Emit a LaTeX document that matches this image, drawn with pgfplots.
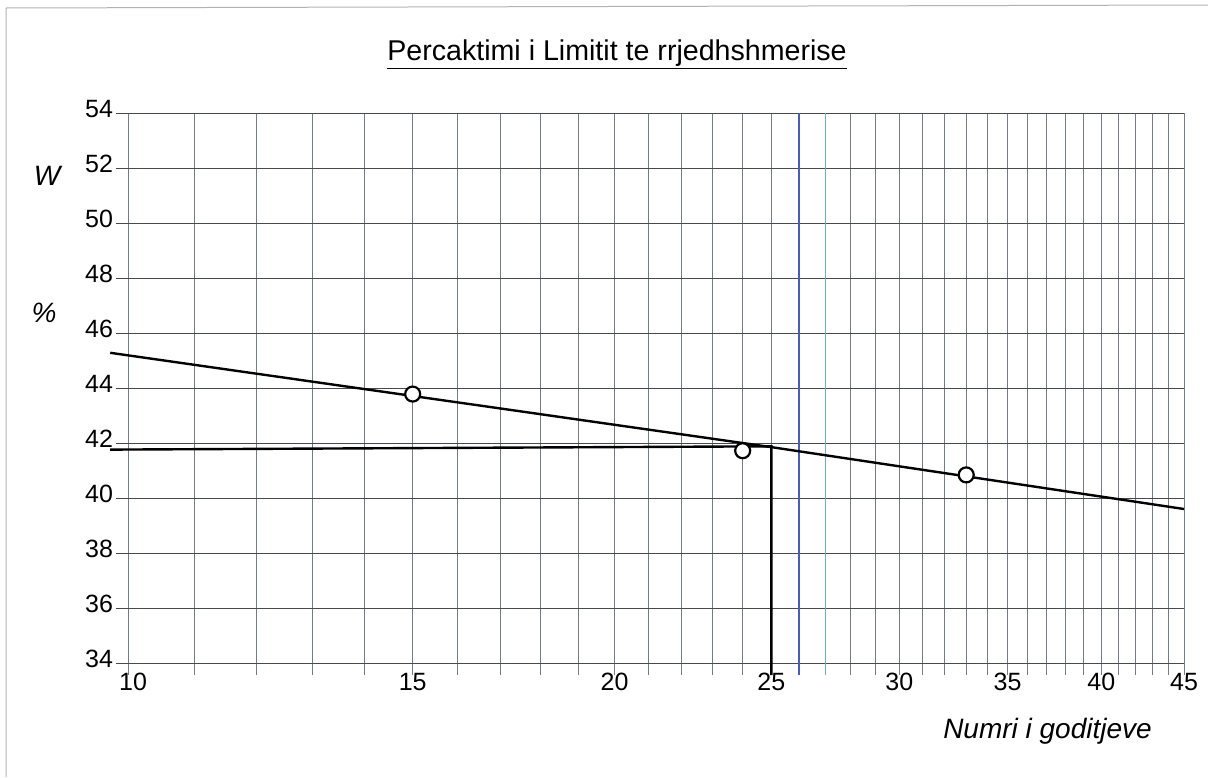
\documentclass[border=0pt]{standalone}
\usepackage{pgfplots}
\pgfplotsset{compat=1.18}
\usepackage{fontspec}
\setmainfont{Liberation Sans}
\definecolor{vgridc}{RGB}{115,124,134}
\definecolor{hgridc}{RGB}{70,74,78}
\definecolor{blueline}{RGB}{70,90,200}
\definecolor{lightblue}{RGB}{110,170,215}
\newcommand{\tlfont}{\fontsize{12.5}{15}\selectfont}
\begin{document}
\begin{tikzpicture}
\path[use as bounding box] (0,0) rectangle (604pt,-388.5pt);
\begin{axis}[
  at={(64pt,-331.5pt)}, anchor=south west,
  scale only axis, width=528pt, height=275pt,
  xmode=log, xmin=10, xmax=45, ymin=34, ymax=54,
  xtick={10,15,20,25,30,35,40,45},
  xticklabels={\hspace*{5pt}10,15,20,25,30,35,40,45},
  minor xtick={},
  ytick={34,36,...,54},
  tick style={draw=none},
  axis line style={draw=none},
  clip=false,
  /pgf/number format/assume math mode=true,
  yticklabel={\tlfont\pgfmathprintnumber{\tick}},
  yticklabel style={font=\tlfont, yshift=2pt, xshift=-4pt},
  xticklabel style={font=\tlfont, yshift=-1.5pt},
]
\pgfplotsinvokeforeach{10,...,45}{\draw[vgridc, line width=0.5pt] (axis cs:#1,33.56) -- (axis cs:#1,54);}
\pgfplotsinvokeforeach{34,36,...,54}{\draw[hgridc, line width=0.5pt] (axis cs:9.83,#1) -- (axis cs:45,#1);}
\addplot[draw=blueline, line width=0.7pt] coordinates {(26,33.56) (26,54)};
\addplot[draw=lightblue, line width=0.8pt] coordinates {(27,33.56) (27,54)};
\addplot[black, line width=1.2pt] coordinates {(9.75,45.28) (25,41.85) (45,39.6)};
\addplot[black, line width=1.2pt] coordinates {(9.75,41.76) (25,41.88) (25,33.56)};
\addplot[only marks, mark=*, mark size=3.75pt, mark options={fill=white, draw=black, line width=1.1pt}] coordinates {(15,43.78) (24,41.72) (33,40.84)};
\end{axis}
\begin{scope}[x=0.5pt,y=-0.5pt]
\node[anchor=base, font=\fontsize{14.3}{16}\selectfont, inner sep=0pt] at (617,60) {\underline{Percaktimi i Limitit te rrjedhshmerise}};
\node[font=\fontsize{14}{16}\selectfont\itshape, inner sep=0pt] at (47,176) {W};
\node[font=\fontsize{14}{16}\selectfont\itshape, inner sep=0pt] at (44,313) {\%};
\node[anchor=base, font=\fontsize{14}{16}\selectfont\itshape, inner sep=0pt] at (1047.5,738) {Numri i goditjeve};
\draw[gray!60, line width=0.5pt] (6,777) -- (6,8) -- (1208,5);
\end{scope}
\end{tikzpicture}
\end{document}
